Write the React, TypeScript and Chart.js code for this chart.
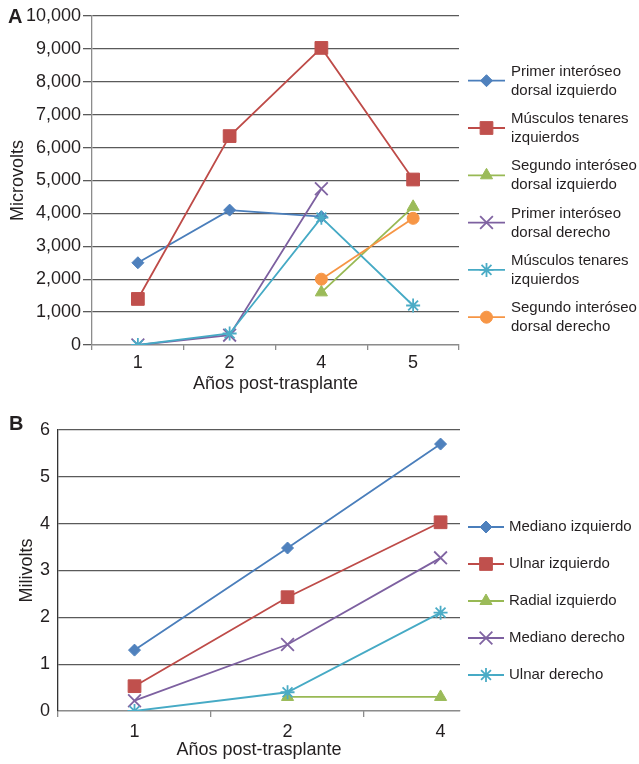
import React, { useEffect, useRef } from 'react';
import { Chart, registerables } from 'chart.js';
import { drawPoint } from 'chart.js/helpers';

Chart.register(...registerables);

// ---------- Data: panel A (Microvolts) ----------
const categoriesA = ['1', '2', '4', '5'];
const seriesLabelsA = [
  'Primer interóseo\ndorsal izquierdo',
  'Músculos tenares\nizquierdos',
  'Segundo interóseo\ndorsal izquierdo',
  'Primer interóseo\ndorsal derecho',
  'Músculos tenares\nizquierdos',
  'Segundo interóseo\ndorsal derecho',
];
const primerIntDorsalIzqA = [2500, 4100, 3900, null];
const tenaresIzqA = [1400, 6350, 9030, 5030];
const segundoIntDorsalIzqA = [null, null, 1600, 4200];
const primerIntDorsalDerA = [0, 300, 4750, null];
const tenaresIzq2A = [0, 350, 3870, 1200];
const segundoIntDorsalDerA = [null, null, 2000, 3850];
const yMinA = 0;
const yMaxA = 10000;
const yStepA = 1000;

// ---------- Data: panel B (Milivolts) ----------
const categoriesB = ['1', '2', '4'];
const seriesLabelsB = [
  'Mediano izquierdo',
  'Ulnar izquierdo',
  'Radial izquierdo',
  'Mediano derecho',
  'Ulnar derecho',
];
const medianoIzqB = [1.3, 3.48, 5.7];
const ulnarIzqB = [0.53, 2.43, 4.03];
const radialIzqB = [null, 0.3, 0.3];
const medianoDerB = [0.22, 1.42, 3.27];
const ulnarDerB = [0, 0.4, 2.1];
const yMinB = 0;
const yMaxB = 6;
const yStepB = 1;

// ---------- Styles ----------
const lineColors = ['#4a7ebb', '#be4b48', '#98b954', '#7d60a0', '#46aac5', '#f69544'];
const markerColors = ['#4f81bd', '#c0504d', '#9bbb59', '#8064a2', '#4bacc6', '#f79646'];
const markerStyles = ['rectRot', 'rect', 'triangle', 'crossRot', 'star', 'circle'];
const markerRadii = [6, 9, 7, 9, 7, 6];
const TEXT = '#231f20';
const GRID = '#5a5a5a';
const AXIS = '#8c8c8c';
const FONT = "'Liberation Sans', Arial, Helvetica, sans-serif";

Chart.defaults.font.family = FONT;
Chart.defaults.color = TEXT;

const sideLegend = {
  id: 'sideLegend',
  afterDraw(chart: any, _args: any, opts: any) {
    const { ctx } = chart;
    chart.data.datasets.forEach((ds: any, i: number) => {
      const y = opts.y0 + i * opts.step;
      ctx.save();
      ctx.strokeStyle = ds.borderColor;
      ctx.lineWidth = ds.borderWidth;
      ctx.beginPath();
      ctx.moveTo(opts.x0, y);
      ctx.lineTo(opts.x1, y);
      ctx.stroke();
      ctx.fillStyle = ds.pointBackgroundColor;
      ctx.strokeStyle = ds.pointBorderColor;
      ctx.lineWidth = ds.pointBorderWidth;
      drawPoint(
        ctx,
        { pointStyle: ds.pointStyle, radius: ds.pointRadius, borderWidth: ds.pointBorderWidth, rotation: 0 },
        (opts.x0 + opts.x1) / 2,
        y
      );
      const lines = String(ds.label).split('\n');
      ctx.fillStyle = TEXT;
      ctx.font = `${opts.fontSize}px ${FONT}`;
      ctx.textBaseline = 'middle';
      ctx.textAlign = 'left';
      lines.forEach((t: string, k: number) => {
        ctx.fillText(t, opts.textX, y + opts.textShift + (k - (lines.length - 1) / 2) * opts.lineGap);
      });
      ctx.restore();
    });
  },
};

function makeDataset(label: string, data: any[], i: number, n: number) {
  const stroked = markerStyles[i] === 'crossRot' || markerStyles[i] === 'star';
  return {
    label,
    data,
    borderColor: lineColors[i],
    borderWidth: 1.8,
    pointStyle: markerStyles[i],
    pointRadius: markerRadii[i],
    pointHoverRadius: markerRadii[i],
    pointBackgroundColor: markerColors[i],
    pointBorderColor: markerColors[i],
    pointBorderWidth: stroked ? 1.8 : 1,
    fill: false,
    tension: 0,
    order: n - i,
  };
}

export default function App() {
  const refA = useRef<HTMLCanvasElement>(null);
  const refB = useRef<HTMLCanvasElement>(null);

  useEffect(() => {
    const seriesA = [
      primerIntDorsalIzqA,
      tenaresIzqA,
      segundoIntDorsalIzqA,
      primerIntDorsalDerA,
      tenaresIzq2A,
      segundoIntDorsalDerA,
    ];
    const chartA = new Chart(refA.current as HTMLCanvasElement, {
      type: 'line',
      data: {
        labels: categoriesA,
        datasets: seriesA.map((d, i) => makeDataset(seriesLabelsA[i], d, i, seriesA.length)) as any,
      },
      options: {
        animation: false,
        responsive: false,
        devicePixelRatio: 1,
        locale: 'en-US',
        layout: { padding: { top: 16, right: 180, left: 0, bottom: 0 } },
        plugins: {
          legend: { display: false },
          tooltip: { enabled: false },
          sideLegend: {
            x0: 468, x1: 505, textX: 511, y0: 80.7, step: 47.3, lineGap: 19, fontSize: 15, textShift: 0.5,
          },
        } as any,
        scales: {
          x: {
            type: 'category',
            offset: true,
            grid: { offset: true, drawOnChartArea: false, tickLength: 5, color: AXIS, lineWidth: 1.3 },
            border: { color: AXIS, width: 1.3 },
            ticks: { font: { size: 18 }, color: TEXT, padding: 2, maxRotation: 0 },
            title: {
              display: true, text: 'Años post-trasplante', font: { size: 18 }, color: TEXT,
              padding: { top: 0, bottom: 5 },
            },
            afterFit: (s: any) => { s.height = 55; },
          },
          y: {
            min: yMinA,
            max: yMaxA,
            ticks: { stepSize: yStepA, font: { size: 18 }, color: TEXT, padding: 2 },
            grid: { color: GRID, lineWidth: 1.3, tickLength: 9 },
            border: { color: AXIS, width: 1.3 },
            title: {
              display: true, text: 'Microvolts', font: { size: 18 }, color: TEXT,
              padding: { top: 7, bottom: 0 },
            },
            afterFit: (s: any) => { s.width = 92; },
          },
        },
      } as any,
      plugins: [sideLegend],
    });

    const seriesB = [medianoIzqB, ulnarIzqB, radialIzqB, medianoDerB, ulnarDerB];
    const xMaxB = categoriesB.length - 1 + 0.127;
    const xTicksB: number[] = [];
    for (let i = 0; i <= categoriesB.length; i++) {
      if (i - 0.5 <= xMaxB) xTicksB.push(i - 0.5);
      if (i < categoriesB.length) xTicksB.push(i);
    }
    const chartB = new Chart(refB.current as HTMLCanvasElement, {
      type: 'line',
      data: {
        datasets: seriesB.map((d, i) =>
          makeDataset(seriesLabelsB[i], d.map((v, k) => ({ x: k, y: v })), i, seriesB.length)
        ) as any,
      },
      options: {
        animation: false,
        responsive: false,
        devicePixelRatio: 1,
        locale: 'en-US',
        layout: { padding: { top: 30, right: 179, left: 0, bottom: 0 } },
        plugins: {
          legend: { display: false },
          tooltip: { enabled: false },
          sideLegend: {
            x0: 468, x1: 504, textX: 509, y0: 127, step: 37, lineGap: 19, fontSize: 15, textShift: 0,
          },
        } as any,
        scales: {
          x: {
            type: 'linear',
            min: -0.5,
            max: xMaxB,
            afterBuildTicks: (s: any) => { s.ticks = xTicksB.map((v) => ({ value: v })); },
            ticks: {
              autoSkip: false,
              maxRotation: 0,
              font: { size: 18 },
              color: TEXT,
              padding: 4,
              callback: (v: any) => (Number.isInteger(v) ? categoriesB[v] : ''),
            },
            grid: {
              drawOnChartArea: false,
              tickLength: 6,
              lineWidth: 1.3,
              color: (ctx: any) =>
                ctx.tick && Number.isInteger(ctx.tick.value) ? 'rgba(0,0,0,0)' : AXIS,
            },
            border: { color: AXIS, width: 1.3 },
            title: {
              display: true, text: 'Años post-trasplante', font: { size: 18 }, color: TEXT,
              padding: { top: 0, bottom: 3 },
            },
            afterFit: (s: any) => { s.height = 53; },
          },
          y: {
            min: yMinB,
            max: yMaxB,
            ticks: { stepSize: yStepB, font: { size: 18 }, color: TEXT, padding: 8 },
            grid: { color: GRID, lineWidth: 1.3, drawTicks: false },
            border: { color: '#333', width: 1.3 },
            title: {
              display: true, text: 'Milivolts', font: { size: 18 }, color: TEXT,
              padding: { top: 16, bottom: 0 },
            },
            afterFit: (s: any) => { s.width = 58; },
          },
        },
      } as any,
      plugins: [sideLegend],
    });

    return () => {
      chartA.destroy();
      chartB.destroy();
    };
  }, []);

  const panelLabel: React.CSSProperties = {
    position: 'absolute',
    fontFamily: FONT,
    fontWeight: 'bold',
    fontSize: 20,
    color: TEXT,
    lineHeight: '20px',
    margin: 0,
  };

  return (
    <div style={{ position: 'absolute', left: 0, top: 0, width: 639, height: 764, background: '#fff' }}>
      <canvas
        ref={refA}
        width={639}
        height={400}
        style={{ position: 'absolute', left: 0, top: 0, width: 639, height: 400 }}
      />
      <canvas
        ref={refB}
        width={639}
        height={364}
        style={{ position: 'absolute', left: 0, top: 400, width: 639, height: 364 }}
      />
      <div style={{ ...panelLabel, left: 8, top: 6 }}>A</div>
      <div style={{ ...panelLabel, left: 9, top: 413 }}>B</div>
    </div>
  );
}
